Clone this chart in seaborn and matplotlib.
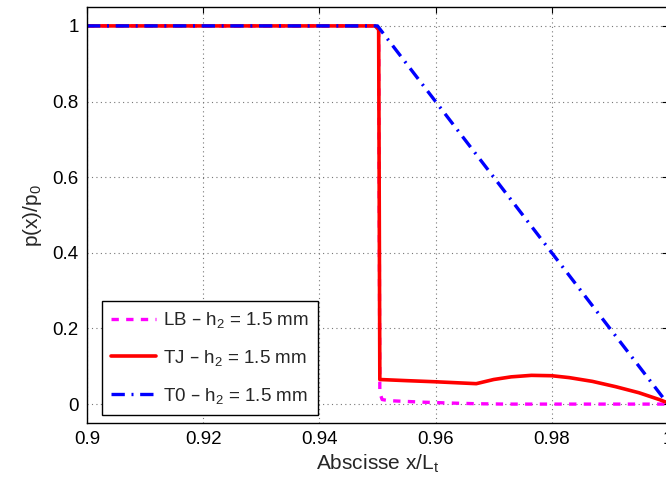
import numpy as np
import pandas as pd
import matplotlib
matplotlib.use('Agg')
import matplotlib.pyplot as plt
import seaborn as sns

# data
x_lb = [0.9, 0.9496, 0.9502, 0.9504, 0.9508, 0.952, 0.955, 0.958, 0.962, 0.967, 0.972, 1.0]
y_lb = [1.0, 1.0, 0.99, 0.030, 0.012, 0.009, 0.007, 0.005, 0.003, 0.001, 0.0, 0.0]

x_tj = [0.9, 0.9496, 0.9502, 0.9504, 0.955, 0.96, 0.967, 0.970, 0.973, 0.9765,
        0.980, 0.983, 0.987, 0.991, 0.995, 0.9985, 1.0]
y_tj = [1.0, 1.0, 0.99, 0.065, 0.062, 0.059, 0.054, 0.065, 0.072, 0.076,
        0.075, 0.070, 0.060, 0.046, 0.030, 0.012, 0.003]

x_t0 = [0.9, 0.95, 1.0]
y_t0 = [1.0, 1.0, 0.0]

labels = ['LB – h$_2$ = 1.5 mm', 'TJ – h$_2$ = 1.5 mm', 'T0 – h$_2$ = 1.5 mm']

sns.set_style('white')
plt.rcParams['font.family'] = ['Liberation Sans', 'DejaVu Sans']
plt.rcParams['mathtext.default'] = 'regular'

fig = plt.figure(figsize=(6.66, 4.86), dpi=100)
ax = fig.add_axes([87 / 666, 63 / 486, 581 / 666, 416 / 486])

sns.lineplot(x=x_lb, y=y_lb, ax=ax, sort=False, estimator=None, color='#ff00ff',
             linestyle=(0, (2.2, 2.2)), linewidth=2.4, label=labels[0])
sns.lineplot(x=x_tj, y=y_tj, ax=ax, sort=False, estimator=None, color='#ff0000',
             linestyle='-', linewidth=2.6, label=labels[1])
sns.lineplot(x=x_t0, y=y_t0, ax=ax, sort=False, estimator=None, color='#0000ff',
             linestyle=(0, (4, 2, 0.6, 2)), linewidth=2.4, label=labels[2])

ax.set_xlim(0.9, 1.0)
ax.set_ylim(-0.05, 1.05)
ax.set_xticks([0.9, 0.92, 0.94, 0.96, 0.98, 1.0])
ax.set_xticklabels(['0.9', '0.92', '0.94', '0.96', '0.98', '1'])
ax.set_yticks([0, 0.2, 0.4, 0.6, 0.8, 1.0])
ax.set_yticklabels(['0', '0.2', '0.4', '0.6', '0.8', '1'])
ax.tick_params(direction='in', top=True, right=True, length=4, width=0.8,
               labelsize=13.5, colors='black', pad=6)
ax.grid(True, linestyle=(0, (1, 3)), color='#777777', linewidth=0.8)
for s in ax.spines.values():
    s.set_color('black')
    s.set_linewidth(1.0)

ax.set_xlabel('Abscisse x/L$_t$', fontsize=15, labelpad=3)
ax.set_ylabel('p(x)/p$_0$', fontsize=15, labelpad=6)

leg = ax.legend(loc='lower left', bbox_to_anchor=(0.026, 0.019), borderaxespad=0,
                fontsize=13.5, handlelength=2.4, handletextpad=0.35,
                labelspacing=0.95, borderpad=0.5, fancybox=False, framealpha=1)
leg.get_frame().set_edgecolor('black')
leg.get_frame().set_linewidth(1.0)

fig.savefig('out.png', dpi=100)
